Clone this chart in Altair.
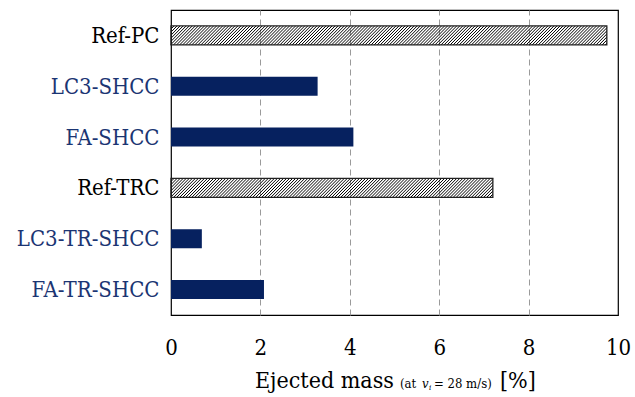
import altair as alt
import pandas as pd

# ---- data ----
names = ["Ref-PC", "LC3-SHCC", "FA-SHCC", "Ref-TRC", "LC3-TR-SHCC", "FA-TR-SHCC"]
values = [9.75, 3.28, 4.08, 7.20, 0.69, 2.08]
hatched = [True, False, False, True, False, False]
x_ticks = [0, 2, 4, 6, 8, 10]

NAVY = "#06215f"
LABEL_NAVY = "#1b3573"
FONT = "DejaVu Serif Condensed, DejaVu Serif"

HALF = 0.187   # half bar thickness (y units)
DX = 0.42      # horizontal run of one hatch line (x units)
STEP = 0.068   # spacing of hatch lines (x units)

bars = pd.DataFrame({"name": names, "value": values,
                     "idx": list(range(len(names))), "hatched": hatched})

rows = []
for i, (v, h) in enumerate(zip(values, hatched)):
    if h:
        k = 0
        while -DX + k * STEP < v:
            rows.append({"idx": i, "value": v, "k": k})
            k += 1
hatch = pd.DataFrame(rows)

xscale = alt.Scale(domain=[0, 10], nice=False, zero=False)
yscale = alt.Scale(domain=[-0.5, len(names) - 0.5], reverse=True, nice=False, zero=False)

names_js = "[" + ",".join("'" + n + "'" for n in names) + "]"
hatch_idx = [i for i, h in enumerate(hatched) if h]
color_expr = "indexof(" + str(hatch_idx) + ", datum.value) >= 0 ? 'black' : '" + LABEL_NAVY + "'"

x_axis = alt.Axis(values=x_ticks, title=None, labelFont=FONT, labelFontSize=22,
                  labelColor="black", ticks=False, tickSize=0, domain=False,
                  labelFlush=False,
                  grid=True, gridDash=[6, 4], gridColor="#9a9a9a", gridWidth=1,
                  gridOpacity={"expr": "datum.value == 0 || datum.value == 10 ? 0 : 1"},
                  labelPadding=22)
y_axis = alt.Axis(values=list(range(len(names))), title=None, labelExpr=names_js + "[datum.value]",
                  labelFont=FONT, labelFontSize=22, labelColor={"expr": color_expr},
                  ticks=False, tickSize=0, domain=False, grid=False, labelPadding=12)

base = alt.Chart(bars).transform_calculate(
    y0="datum.idx - %f" % HALF, y1="datum.idx + %f" % HALF
)

solid = base.transform_filter("!datum.hatched").mark_rect(color=NAVY).encode(
    x=alt.X("value:Q", scale=xscale, axis=x_axis),
    x2=alt.datum(0),
    y=alt.Y("y0:Q", scale=yscale, axis=y_axis),
    y2="y1:Q",
)

lines = alt.Chart(hatch).transform_calculate(
    s="-%f + datum.k * %f" % (DX, STEP)
).transform_calculate(
    xa="max(datum.s, 0)", xb="min(datum.s + %f, datum.value)" % DX
).transform_calculate(
    ya="datum.idx + %f - (datum.xa - datum.s) / %f * %f" % (HALF, DX, 2 * HALF),
    yb="datum.idx + %f - (datum.xb - datum.s) / %f * %f" % (HALF, DX, 2 * HALF),
).transform_filter("datum.xb > datum.xa").mark_rule(color="black", strokeWidth=1).encode(
    x=alt.X("xa:Q", scale=xscale), x2="xb:Q",
    y=alt.Y("ya:Q", scale=yscale), y2="yb:Q",
)

outline = base.transform_filter("datum.hatched").mark_rect(
    fill=None, fillOpacity=0, stroke="#222222", strokeWidth=1.3
).encode(
    x=alt.X("value:Q", scale=xscale), x2=alt.datum(0),
    y=alt.Y("y0:Q", scale=yscale), y2="y1:Q",
)

def txt(s, x, size, italic=False, dy=0):
    return alt.Chart(pd.DataFrame({"t": [s]})).mark_text(
        font=FONT, fontSize=size, align="left", baseline="alphabetic",
        fontStyle="italic" if italic else "normal", color="black", dy=dy
    ).encode(x=alt.value(x), y=alt.value(378), text="t:N")

title_parts = [
    txt("Ejected mass", 84, 23),
    txt("(at", 229, 13),
    txt("v", 251, 13, italic=True),
    txt("i", 258, 8, italic=True, dy=2),
    txt("= 28 m/s)", 263, 13),
    txt("[%]", 329, 23),
]

chart = alt.layer(solid, lines, outline, *title_parts).properties(
    width=447, height=305,
    autosize=alt.AutoSizeParams(type="none"),
    padding={"left": 171, "top": 10, "right": 17, "bottom": 82},
).configure_view(stroke="black", strokeWidth=1.2)

chart.save("out.html", embed_options={"renderer": "svg", "actions": False})
